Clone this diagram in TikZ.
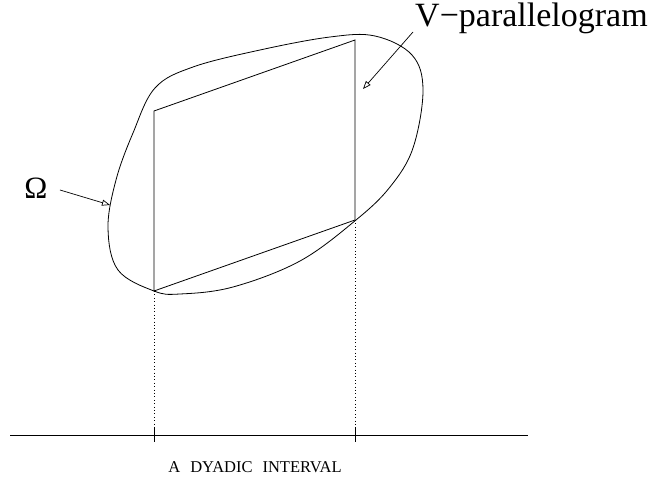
\documentclass[tikz,border=0pt]{standalone}
\usepackage{fontspec}
\setmainfont{Liberation Serif}
\usetikzlibrary{arrows.meta}
\begin{document}
\begin{tikzpicture}[x=1pt,y=-1pt,
  ln/.style={line width=0.8pt, black},
  dotln/.style={line width=0.8pt, dash pattern=on 0.8pt off 2.6pt},
  ptr/.style={line width=0.7pt, -{Triangle[open,length=8pt,width=6pt]}},
  bigtxt/.style={font=\fontsize{34}{40}\selectfont, inner sep=0pt},
  omtxt/.style={font=\fontsize{31}{36}\selectfont, inner sep=0pt},
  smtxt/.style={font=\fontsize{16.5}{20}\selectfont, inner sep=0pt}]
\useasboundingbox (0,0) rectangle (651,478);
% parallelogram corners
\coordinate (A) at (154,291);
\coordinate (B) at (154,111);
\coordinate (C) at (355,40);
\coordinate (D) at (355,220);
% blob
\draw[ln] plot[smooth cycle, tension=0.6] coordinates {
 (154,291) (118,270) (108,228) (116,180) (133,133)
 (155,88) (193,67) (260,50) (330,37) (375,36) (412,55)
 (423,90) (413,148) (390,187) (356,220) (300,261)
 (233,287) (180,294)};
% parallelogram
\draw[ln] (A) -- (B) -- (C) -- (D) -- cycle;
% axis
\coordinate (L) at (10,435);
\coordinate (R) at (528,435);
\coordinate (T1a) at (154,428);
\coordinate (T1b) at (154,442);
\coordinate (T2a) at (355,428);
\coordinate (T2b) at (355,442);
\draw[ln] (L) -- (R);
\draw[ln] (T1a) -- (T1b);
\draw[ln] (T2a) -- (T2b);
\draw[dotln] (A) -- (T1a);
\draw[dotln] (D) -- (T2a);
% labels
\node[bigtxt, anchor=base west] (vp) at (415,27) {V−parallelogram};
\node[omtxt] (om) at (36,188) {Ω};
\node[smtxt, anchor=base] (di) at (255,472) {A\hspace{10pt}DYADIC\hspace{10pt}INTERVAL};
% pointers
\coordinate (vpS) at (413,32);
\coordinate (vpT) at (363,89);
\coordinate (omS) at (60,190);
\coordinate (omT) at (110,205);
\draw[ptr] (vpS) -- (vpT);
\draw[ptr] (omS) -- (omT);
\end{tikzpicture}
\end{document}
